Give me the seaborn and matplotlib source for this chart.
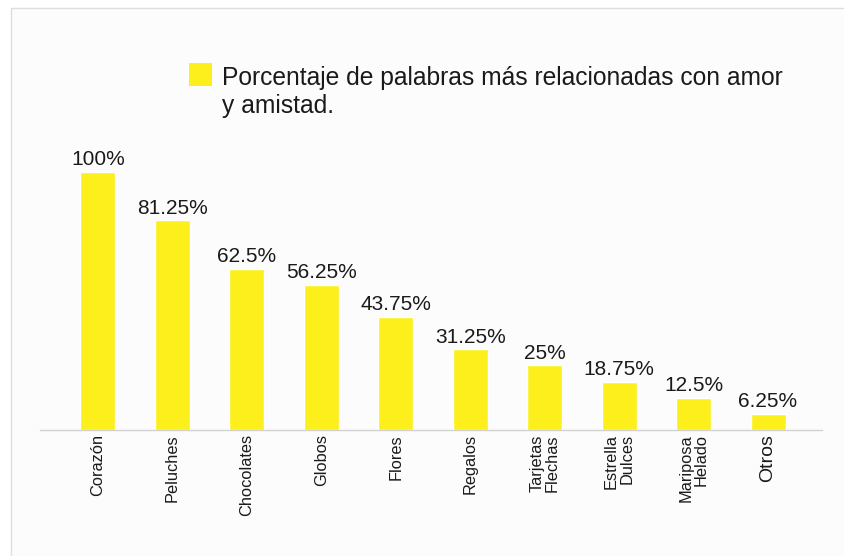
import matplotlib
matplotlib.use("Agg")
import matplotlib.pyplot as plt
from matplotlib.patches import Rectangle
import seaborn as sns
import pandas as pd

categories = ["Corazón", "Peluches", "Chocolates", "Globos", "Flores", "Regalos",
              "Tarjetas\nFlechas", "Estrella\nDulces", "Mariposa\nHelado", "Otros"]
values = [100, 81.25, 62.5, 56.25, 43.75, 31.25, 25, 18.75, 12.5, 6.25]
value_labels = ["100%", "81.25%", "62.5%", "56.25%", "43.75%", "31.25%", "25%",
                "18.75%", "12.5%", "6.25%"]
series_name = "Porcentaje de palabras más relacionadas con amor\ny amistad."

bar_color = "#fcef1c"
text_color = "#1a1a1a"

sns.set_theme(style="white")
plt.rcParams["font.family"] = ["Liberation Sans", "DejaVu Sans"]

df = pd.DataFrame({"cat": categories, "val": values})

fig = plt.figure(figsize=(8.44, 5.56), dpi=100, facecolor="white")
bg = Rectangle((11 / 844, -0.02), 1.0, 1.02 - 8 / 556,
               transform=fig.transFigure, facecolor="#fcfcfc",
               edgecolor="#dedede", linewidth=1.0, zorder=-10)
fig.patches.append(bg)
ax = fig.add_axes([40 / 844, 1 - 430 / 556, (822 - 40) / 844, (430 - 150) / 556])
ax.patch.set_alpha(0)
ax.set_zorder(5)

sns.barplot(data=df, x="cat", y="val", color=bar_color, saturation=1,
            width=0.47, ax=ax)

ax.set_xlim(-0.779, 9.725)
ax.set_ylim(0, 108.5)
for s in ["top", "right", "left"]:
    ax.spines[s].set_visible(False)
ax.spines["bottom"].set_color("#d2d2d2")
ax.spines["bottom"].set_linewidth(1.0)
ax.set_yticks([])
ax.set_xlabel("")
ax.set_ylabel("")
ax.tick_params(axis="x", length=0, pad=3)
ax.set_xticks(range(len(categories)))
ax.set_xticklabels(categories, rotation=90, fontsize=11.8, color=text_color,
                   multialignment="right", linespacing=1.05)
ax.get_xticklabels()[-1].set_fontsize(14)

for i, (v, t) in enumerate(zip(values, value_labels)):
    ax.annotate(t, (i, v), xytext=(0, 2), textcoords="offset points",
                ha="center", va="bottom", fontsize=15, color=text_color)

# legend (square swatch aligned with the first line of the label)
fig.patches.append(Rectangle((189 / 844, 1 - 86 / 556), 23 / 844, 23 / 556,
                             transform=fig.transFigure, facecolor=bar_color,
                             edgecolor="none", zorder=6))
fig.text(222 / 844, 1 - 113 / 556, series_name, ha="left", va="baseline",
         fontsize=17.7, color=text_color, linespacing=1.22, zorder=6)

fig.savefig("out.png", dpi=100, facecolor="white")
